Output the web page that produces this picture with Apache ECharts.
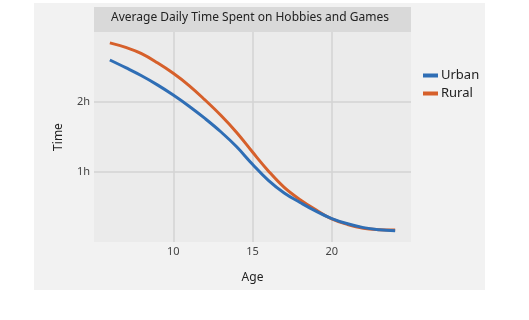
<!DOCTYPE html>
<html>
<head>
<meta charset="utf-8">
<script src="https://cdn.jsdelivr.net/npm/echarts@6/dist/echarts.min.js"></script>
<style>
  html, body { margin: 0; padding: 0; background: #fff; }
  #chart { width: 529px; height: 320px; }
</style>
</head>
<body>
<div id="chart"></div>
<script>
// ages on the x axis
var ages = [6, 7, 8, 9, 10, 11, 12, 13, 14, 15, 16, 17, 18, 19, 20, 21, 22, 23, 24];
// average daily time, in hours
var urban = [2.60, 2.49, 2.375, 2.245, 2.10, 1.94, 1.765, 1.575, 1.36, 1.11, 0.88, 0.70, 0.565, 0.44, 0.335, 0.26, 0.205, 0.175, 0.16];
var rural = [2.845, 2.78, 2.69, 2.56, 2.41, 2.235, 2.03, 1.81, 1.565, 1.285, 1.015, 0.78, 0.605, 0.46, 0.33, 0.25, 0.195, 0.175, 0.17];
var xTicks = [10, 15, 20];
var yTicks = [1, 2];

function pairs(vals) {
    return ages.map(function (a, i) { return [a, vals[i]]; });
}

var font = 'Noto Sans';
var chart = echarts.init(document.getElementById('chart'));
var option = {
    backgroundColor: '#fff',
    animation: false,
    graphic: [{
        type: 'rect',
        z: -10,
        shape: { x: 34, y: 3, width: 451, height: 287 },
        style: { fill: '#f2f2f2' }
    }, {
        type: 'rect',
        z: -5,
        shape: { x: 94, y: 7, width: 317, height: 25 },
        style: { fill: '#d9d9d9' }
    }],
    title: {
        text: 'Average Daily Time Spent on Hobbies and Games',
        left: 250,
        top: 12,
        textAlign: 'center',
        padding: 0,
        textStyle: { fontFamily: font, fontSize: 12, fontWeight: 'normal', color: '#222' }
    },
    grid: {
        left: 94,
        right: 118,
        top: 32,
        bottom: 78,
        show: true,
        backgroundColor: '#ebebeb',
        borderWidth: 0
    },
    legend: {
        orient: 'vertical',
        left: 418,
        top: 64,
        itemWidth: 15,
        itemHeight: 4,
        itemGap: 5,
        icon: 'rect',
        textStyle: { fontFamily: font, fontSize: 13, color: '#222', padding: [0, 0, 0, -2] },
        data: ['Urban', 'Rural']
    },
    xAxis: {
        type: 'value',
        min: 5,
        max: 25,
        interval: 5,
        name: 'Age',
        nameLocation: 'middle',
        nameGap: 30,
        nameTextStyle: { fontFamily: font, fontSize: 12, color: '#222' },
        axisLine: { show: false },
        axisTick: { show: false },
        axisLabel: {
            fontFamily: font, fontSize: 11, color: '#444', margin: 4,
            formatter: function (v) { return xTicks.indexOf(v) >= 0 ? String(v) : ''; }
        },
        splitLine: { lineStyle: { color: ['transparent', '#d3d3d3', '#d3d3d3', '#d3d3d3', 'transparent'], width: 1.5 } }
    },
    yAxis: {
        type: 'value',
        min: 0,
        max: 3,
        interval: 1,
        name: 'Time',
        nameLocation: 'middle',
        nameGap: 29,
        nameTextStyle: { fontFamily: font, fontSize: 12, color: '#222' },
        axisLine: { show: false },
        axisTick: { show: false },
        axisLabel: {
            fontFamily: font, fontSize: 11, color: '#444', margin: 4,
            formatter: function (v) { return yTicks.indexOf(v) >= 0 ? v + 'h' : ''; }
        },
        splitLine: { lineStyle: { color: ['transparent', '#d3d3d3', '#d3d3d3', 'transparent'], width: 1.5 } }
    },
    series: [{
        name: 'Urban',
        type: 'line',
        smooth: 0.4,
        showSymbol: false,
        color: '#2f6eb5',
        lineStyle: { width: 3 },
        z: 3,
        data: pairs(urban)
    }, {
        name: 'Rural',
        type: 'line',
        smooth: 0.4,
        showSymbol: false,
        color: '#d6602b',
        lineStyle: { width: 3 },
        z: 2,
        data: pairs(rural)
    }]
};
chart.setOption(option);
</script>
</body>
</html>
